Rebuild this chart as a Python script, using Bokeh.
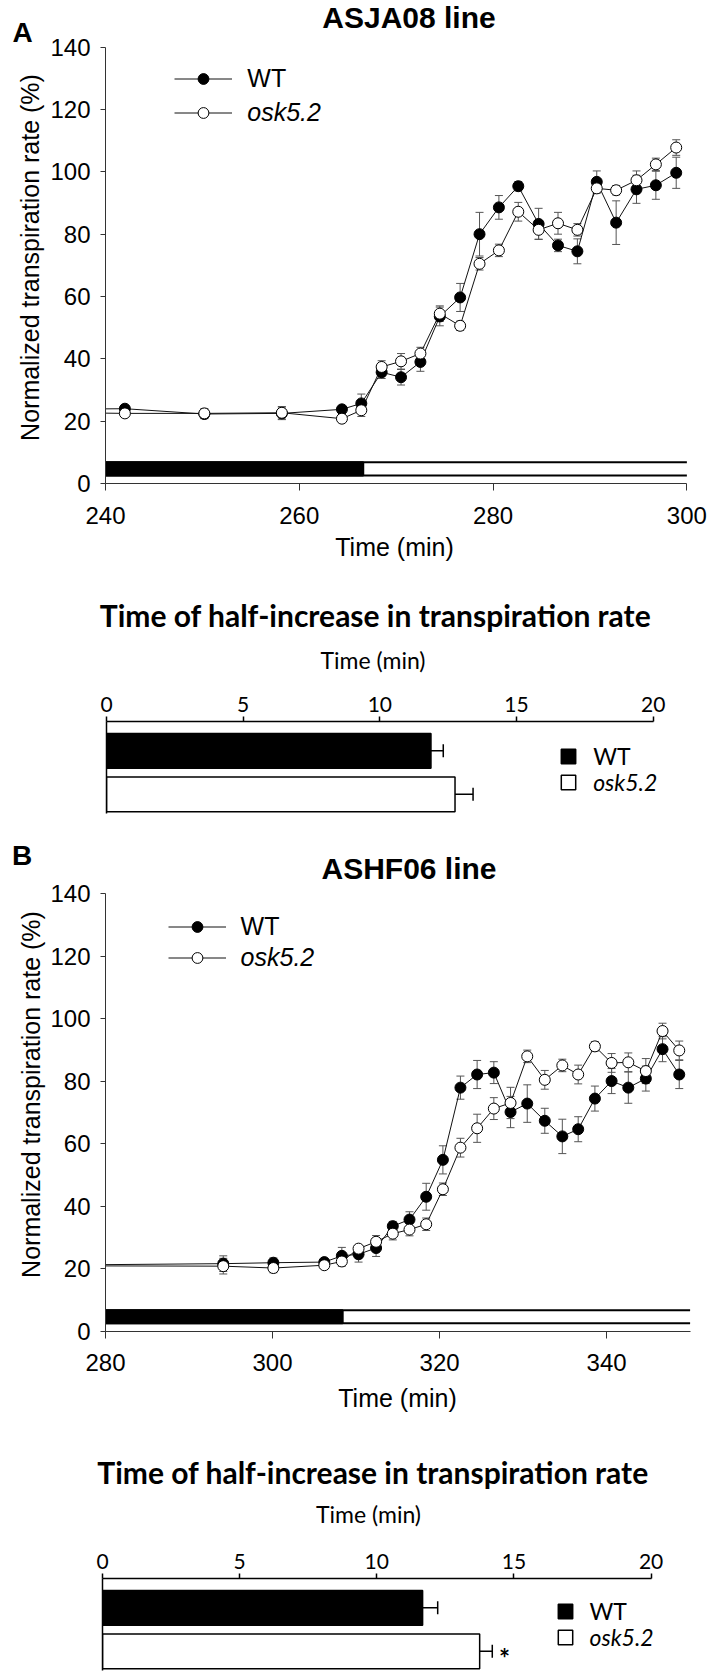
import math
from bokeh.plotting import figure
from bokeh.models import (Range1d, Label, Legend, LegendItem, Whisker, TeeHead,
                          ColumnDataSource, FixedTicker)
from bokeh.layouts import column, row
from bokeh.embed import file_html
from bokeh.resources import INLINE

# ---------------- data ----------------
# Panel A : ASJA08 line (time in min, normalized transpiration rate in %)
a_time = [234.0, 242.0, 250.2, 258.2, 264.4, 266.4, 268.5, 270.5, 272.5, 274.5, 276.6,
          278.6, 280.6, 282.6, 284.7, 286.7, 288.7, 290.7, 292.7, 294.8, 296.8, 298.9]
a_wt = [23.8, 24.0, 22.3, 22.5, 23.8, 25.7, 35.7, 34.1, 39.0, 53.6, 59.7,
        80.0, 88.6, 95.4, 83.3, 76.4, 74.5, 96.8, 83.7, 94.4, 95.7, 99.7]
a_wt_err = [0, 1.0, 1.5, 2.0, 1.0, 3.0, 2.0, 2.5, 3.0, 3.0, 4.5,
            7.0, 3.8, 1.5, 5.0, 2.0, 4.0, 3.5, 7.0, 4.5, 4.5, 5.0]
a_osk = [22.8, 22.5, 22.5, 22.7, 20.8, 23.5, 37.4, 39.2, 41.7, 54.5, 50.6,
         70.5, 74.8, 87.2, 81.4, 83.5, 81.4, 94.7, 94.1, 97.3, 102.4, 107.8]
a_osk_err = [0, 1.0, 1.5, 2.0, 1.0, 2.0, 2.0, 2.5, 2.0, 2.5, 1.5,
             2.0, 2.0, 3.0, 3.0, 3.5, 2.0, 1.5, 1.5, 3.0, 2.0, 2.5]
a_light = [240, 266.6, 300]          # dark period start, light on, end
a_xticks = [240, 260, 280, 300]

# Panel B : ASHF06 line
b_time = [276.0, 294.1, 300.1, 306.2, 308.3, 310.3, 312.4, 314.4, 316.4, 318.4, 320.4, 322.5,
          324.5, 326.5, 328.5, 330.5, 332.6, 334.7, 336.6, 338.6, 340.6, 342.6, 344.7,
          346.7, 348.7]
b_wt = [21.3, 21.7, 22.0, 22.2, 24.2, 24.7, 26.7, 33.7, 35.8, 43.1, 54.9, 78.0,
        82.2, 82.8, 70.2, 72.9, 67.4, 62.4, 64.7, 74.5, 80.1, 78.0, 80.9,
        90.3, 82.2]
b_wt_err = [0, 2.5, 1.5, 1.0, 2.7, 2.5, 2.7, 1.5, 2.5, 4.3, 4.5, 3.7,
            4.5, 3.5, 5.0, 6.0, 4.0, 5.5, 4.0, 4.0, 4.0, 5.0, 4.0,
            4.0, 4.5]
b_osk = [21.0, 20.9, 20.3, 21.2, 22.4, 26.5, 28.7, 31.3, 32.6, 34.3, 45.5, 58.8,
         65.0, 71.3, 73.1, 88.0, 80.5, 85.1, 82.2, 91.2, 85.9, 86.1, 83.3,
         96.1, 89.9]
b_osk_err = [0, 2.5, 1.5, 1.0, 1.5, 1.0, 2.0, 2.0, 2.0, 2.0, 2.0, 3.0,
             4.5, 3.5, 5.0, 2.0, 3.0, 2.0, 3.0, 1.5, 3.0, 3.0, 4.0,
             2.5, 3.0]
b_light = [280, 308.4, 350]
b_xticks = [280, 300, 320, 340]

light_band = [2.6, 6.8]               # extent of the dark/light indicator bar
y_ticks = [0, 20, 40, 60, 80, 100, 120, 140]

# Time of half-increase (min): [WT, osk5.2]
half_a = [11.87, 12.75]
half_a_err = [0.45, 0.66]
half_b = [11.67, 13.75]
half_b_err = [0.55, 0.46]
half_ticks = [0, 5, 10, 15, 20]

series_names = ["WT", "osk5.2"]
bar_title = "Time of half-increase in transpiration rate"
time_label = "Time (min)"
ylabel = "Normalized transpiration rate (%)"

ARIAL = "Liberation Sans"
CAL = "Lato"
W = 709
STRIP = 47


def add_text(p, x, y, text, font, size, style="normal", angle=0.0, units="screen",
             align="center", baseline="middle"):
    p.add_layout(Label(x=x, y=y, x_units=units, y_units=units, text=text,
                       text_font=font, text_font_size=f"{size}px",
                       text_font_style=style, text_align=align,
                       text_baseline=baseline, angle=angle, text_color="black"))


def text_fig(width, height):
    p = figure(width=width, height=height, x_range=Range1d(0, width), y_range=Range1d(0, height),
               x_axis_type=None, y_axis_type=None, output_backend="svg",
               toolbar_location=None, title=None, min_border=0, frame_align=False)
    p.outline_line_color = None
    return p


def page_text(p, top, x, y, text, font, size, style="normal", angle=0.0):
    """centred text, position given in page pixels"""
    h = p.height
    add_text(p, x, h - (y - top), text, font, size, style, angle, units="data")


def line_chart(times, wt, wt_err, osk, osk_err, light, x0, x1, xticks, height,
               left_px, end_px, bottom_px, top140_px, title, t_pos, leg_x, leg_y,
               label_standoff):
    width = W - STRIP
    frame_w = width - left_px
    frame_h = height - bottom_px
    x_end = x0 + (x1 - x0) * frame_w / end_px
    y_end = 140 * frame_h / (frame_h - top140_px)
    p = figure(width=width, height=height, x_range=Range1d(x0, x_end), y_range=Range1d(0, y_end),
               output_backend="svg", toolbar_location=None, title=None, frame_align=False,
               min_border_top=0, min_border_right=0,
               min_border_bottom=bottom_px, min_border_left=left_px)
    p.outline_line_color = None
    p.xgrid.visible = False
    p.ygrid.visible = False
    for ax in (p.xaxis[0], p.yaxis[0]):
        ax.axis_line_color = "#333333"
        ax.major_tick_line_color = "#333333"
        ax.minor_tick_line_color = None
        ax.major_tick_in = 0
        ax.major_label_text_font = ARIAL
        ax.major_label_text_font_size = "24px"
        ax.major_label_text_color = "black"
    p.xaxis.ticker = FixedTicker(ticks=xticks)
    p.xaxis.bounds = (x0, x1)
    p.yaxis.ticker = FixedTicker(ticks=y_ticks)
    p.yaxis.bounds = (0, 140)
    p.xaxis.major_tick_out = 7
    p.xaxis.major_label_standoff = label_standoff
    p.yaxis.major_tick_out = 5
    p.yaxis.major_label_standoff = 10

    # dark / light indicator
    p.quad(left=[light[0]], right=[light[1]], bottom=[light_band[0]], top=[light_band[1]],
           fill_color="black", line_color="black", line_width=2)
    p.segment(x0=[light[0], light[0]], x1=[light[2], light[2]],
              y0=light_band, y1=light_band, line_color="black", line_width=2)

    # error bars (visible points only)
    for vals, errs in ((wt, wt_err), (osk, osk_err)):
        es = ColumnDataSource(dict(t=times[1:],
                                   lo=[v - e for v, e in zip(vals[1:], errs[1:])],
                                   hi=[v + e for v, e in zip(vals[1:], errs[1:])]))
        p.add_layout(Whisker(base="t", lower="lo", upper="hi", source=es,
                             dimension="height", line_color="#555555", line_width=1,
                             upper_head=TeeHead(size=8, line_color="#555555", line_width=1),
                             lower_head=TeeHead(size=8, line_color="#555555", line_width=1),
                             level="underlay"))

    src = ColumnDataSource(dict(t=times, wt=wt, osk=osk))
    l_wt = p.line("t", "wt", source=src, line_color="#111111", line_width=1)
    l_osk = p.line("t", "osk", source=src, line_color="#111111", line_width=1)
    m_wt = p.scatter("t", "wt", source=src, size=11, marker="circle",
                     fill_color="black", line_color="black", line_width=1)
    m_osk = p.scatter("t", "osk", source=src, size=11, marker="circle",
                      fill_color="white", line_color="black", line_width=1)

    for name, rs, style, vy in ((series_names[0], [l_wt, m_wt], "normal", leg_y[0]),
                                (series_names[1], [l_osk, m_osk], "italic", leg_y[1])):
        leg = Legend(items=[LegendItem(label=name, renderers=rs)], location=(leg_x, vy),
                     padding=0, margin=0, spacing=0, border_line_color=None,
                     background_fill_alpha=0, glyph_width=58, glyph_height=27,
                     label_height=28, label_standoff=15, label_text_font=ARIAL,
                     label_text_font_size="25px", label_text_font_style=style,
                     label_text_color="black")
        p.add_layout(leg)

    add_text(p, t_pos[0], t_pos[1], title, ARIAL, 30, "bold")
    return p


def bar_chart(vals, errs, height, top_px, bottom_px, left_px, end_px, leg_x, leg_y, star=None):
    frame_w = W - left_px
    x_end = 20 * frame_w / end_px
    p = figure(width=W, height=height, x_range=Range1d(0, x_end),
               y_range=Range1d(2.44, 0.325), x_axis_location="above",
               output_backend="svg", toolbar_location=None, title=None, frame_align=False,
               min_border_top=top_px, min_border_right=0,
               min_border_bottom=bottom_px, min_border_left=left_px)
    p.outline_line_color = None
    p.xgrid.visible = False
    p.ygrid.visible = False
    xa = p.xaxis[0]
    xa.ticker = FixedTicker(ticks=half_ticks)
    xa.bounds = (0, 20)
    xa.axis_line_color = "black"
    xa.axis_line_width = 1.5
    xa.major_tick_line_color = "black"
    xa.major_tick_line_width = 1.5
    xa.major_tick_in = 0
    xa.major_tick_out = 5
    xa.minor_tick_line_color = None
    xa.major_label_text_font = CAL
    xa.major_label_text_font_size = "21px"
    xa.major_label_text_color = "black"
    xa.major_label_standoff = 5
    ya = p.yaxis[0]
    ya.ticker = FixedTicker(ticks=[])
    ya.axis_line_color = "black"
    ya.axis_line_width = 1.5
    ya.major_tick_out = 0
    ya.minor_tick_line_color = None

    cats = [1, 2]
    es = ColumnDataSource(dict(y=cats, lo=vals, hi=[v + e for v, e in zip(vals, errs)]))
    p.add_layout(Whisker(base="y", lower="lo", upper="hi", source=es, dimension="width",
                         line_color="black", line_width=1.5, lower_head=None,
                         upper_head=TeeHead(size=13, line_color="black", line_width=1.5),
                         level="underlay"))
    r_wt = p.hbar(y=[cats[0]], left=0, right=[vals[0]], height=0.8,
                  fill_color="black", line_color="black", line_width=1.5)
    r_osk = p.hbar(y=[cats[1]], left=0, right=[vals[1]], height=0.8,
                   fill_color="white", line_color="black", line_width=1.5)

    for name, r, style, vy in ((series_names[0], r_wt, "normal", leg_y[0]),
                               (series_names[1], r_osk, "italic", leg_y[1])):
        leg = Legend(items=[LegendItem(label=name, renderers=[r])], location=(leg_x, vy),
                     padding=0, margin=0, spacing=0, border_line_color=None,
                     background_fill_alpha=0, glyph_width=18, glyph_height=18,
                     label_height=24, label_standoff=16, label_text_font=CAL,
                     label_text_font_size="23px", label_text_font_style=style,
                     label_text_color="black")
        p.add_layout(leg)

    if star is not None:
        add_text(p, star[0], star[1], "*", CAL, 26, "bold")
    return p


# ---------------- panel A ----------------
TOP_A = 0
HA = 533
stripA = text_fig(STRIP, HA)
page_text(stripA, TOP_A, 22, 31.7, "A", ARIAL, 28, "bold")
page_text(stripA, TOP_A, 29.5, 257, ylabel, ARIAL, 25, angle=math.pi / 2)
mainA = line_chart(a_time, a_wt, a_wt_err, a_osk, a_osk_err, a_light, 240, 300, a_xticks,
                   HA, left_px=103 - STRIP, end_px=686.3 - 103, bottom_px=50,
                   top140_px=46.7, title="ASJA08 line", t_pos=(406.5 - 103, 483 - 17),
                   leg_x=69.3, leg_y=(436 - 32.3 - 14, 436 - 65.7 - 14),
                   label_standoff=16)

TOP_HA = 533
HHA = 144
headA = text_fig(W, HHA)
page_text(headA, TOP_HA, 394, 546, time_label, ARIAL, 25)
page_text(headA, TOP_HA, 375, 614.2, bar_title, CAL, 30, "bold")
page_text(headA, TOP_HA, 372.5, 659.2, time_label, CAL, 23)

HBA = 148   # page 677 -> 825
barA = bar_chart(half_a, half_a_err, HBA, top_px=44, bottom_px=HBA - 44 - 92,
                 left_px=106, end_px=652.7 - 106, leg_x=453.2, leg_y=(42.8, 16.7))

# ---------------- panel B ----------------
TOP_B = 825
HB = 556    # page 825 -> 1381
stripB = text_fig(STRIP, HB)
page_text(stripB, TOP_B, 21.5, 855, "B", ARIAL, 28, "bold")
page_text(stripB, TOP_B, 30.5, 1094, ylabel, ARIAL, 25, angle=math.pi / 2)
mainB = line_chart(b_time, b_wt, b_wt_err, b_osk, b_osk_err, b_light, 280, 350, b_xticks,
                   HB, left_px=105 - STRIP, end_px=689.6 - 105, bottom_px=50,
                   top140_px=893.3 - 825, title="ASHF06 line", t_pos=(408.5 - 105, 1331 - 868),
                   leg_x=62.6, leg_y=(438 - 33.7 - 14, 438 - 65.3 - 14),
                   label_standoff=15)

TOP_HB = 1381
HHB = 152   # page 1381 -> 1533
headB = text_fig(W, HHB)
page_text(headB, TOP_HB, 397, 1397.4, time_label, ARIAL, 25)
page_text(headB, TOP_HB, 372.5, 1471.2, bar_title, CAL, 30, "bold")
page_text(headB, TOP_HB, 368, 1513.7, time_label, CAL, 23)

HBB = 140   # page 1533 -> 1673
barB = bar_chart(half_b, half_b_err, HBB, top_px=45, bottom_px=HBB - 45 - 92,
                 left_px=102, end_px=650.6 - 102, leg_x=453.5, leg_y=(45.2, 19.3),
                 star=(402, 13))

layout = column(row(stripA, mainA, spacing=0), headA, barA,
                row(stripB, mainB, spacing=0), headB, barB, spacing=0)
open("out.html", "w").write(file_html(layout, INLINE))
